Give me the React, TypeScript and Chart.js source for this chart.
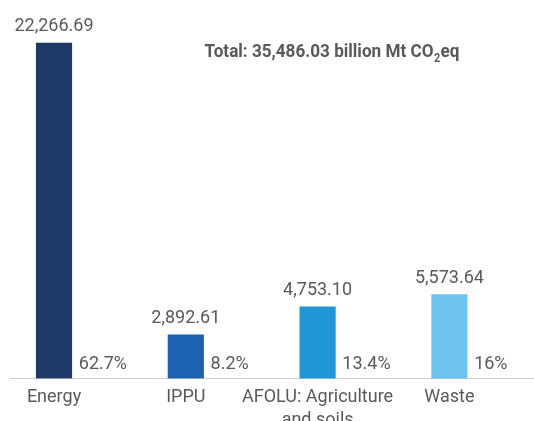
import React, { useEffect, useRef } from 'react';
import { Chart, registerables } from 'chart.js';

Chart.register(...registerables);

const categories: (string | string[])[] = ['Energy', 'IPPU', ['AFOLU: Agriculture', 'and soils'], 'Waste'];
const emissions = [22266.69, 2892.61, 4753.1, 5573.64];
const shares = [62.7, 8.2, 13.4, 16];
const barColors = ['#1e3a66', '#1c62b0', '#2196d6', '#6cc4ee'];
const TOTAL = 35486.03;

const TEXT = '#595959';
const FONT = 'Roboto, "Noto Sans", sans-serif';

const fmt = (v: number) =>
  v.toLocaleString('en-US', { minimumFractionDigits: 2, maximumFractionDigits: 2 });

const labelPlugin = {
  id: 'customLabels',
  afterDatasetsDraw(chart: any) {
    const ctx = chart.ctx as CanvasRenderingContext2D;
    const meta = chart.getDatasetMeta(0);
    const base = chart.scales.y.getPixelForValue(0);
    ctx.save();
    ctx.font = `18px ${FONT}`;
    ctx.fillStyle = TEXT;
    ctx.textBaseline = 'alphabetic';
    meta.data.forEach((bar: any, i: number) => {
      const { x, y, width } = bar.getProps(['x', 'y', 'width'], true);
      ctx.textAlign = 'center';
      ctx.fillText(fmt(emissions[i]), x, y - 12);
      ctx.textAlign = 'left';
      ctx.fillText(`${shares[i]}%`, x + width / 2 + 7, base - 10);
    });

    // Title with subscript
    const main = `Total: ${fmt(TOTAL)} billion Mt CO`;
    const sub = '2';
    const tail = 'eq';
    const bigFont = `bold 19px ${FONT}`;
    const smallFont = `bold 12px ${FONT}`;
    ctx.font = bigFont;
    const w1 = ctx.measureText(main).width;
    const w3 = ctx.measureText(tail).width;
    ctx.font = smallFont;
    const w2 = ctx.measureText(sub).width + 1;
    const total = w1 + w2 + w3;
    const target = 255;
    const sx = target / total;
    const cx = 332;
    const baseY = 57;
    ctx.translate(cx - target / 2, baseY);
    ctx.scale(sx, 1);
    ctx.textAlign = 'left';
    ctx.font = bigFont;
    ctx.fillText(main, 0, 0);
    ctx.font = smallFont;
    ctx.fillText(sub, w1 + 0.5, 5);
    ctx.font = bigFont;
    ctx.fillText(tail, w1 + w2, 0);
    ctx.restore();
  },
};

export default function App() {
  const ref = useRef<HTMLCanvasElement>(null);

  useEffect(() => {
    if (!ref.current) return;
    const chart = new Chart(ref.current, {
      type: 'bar',
      data: {
        datasets: [
          {
            data: emissions.map((y, i) => ({ x: i, y })),
            backgroundColor: barColors,
            barThickness: 35.5,
            borderWidth: 0,
          },
        ],
      },
      options: {
        animation: false,
        responsive: true,
        maintainAspectRatio: false,
        layout: { padding: { top: 17, left: 10, right: 0, bottom: 0 } },
        plugins: {
          legend: { display: false },
          tooltip: { enabled: false },
          title: { display: false },
        },
        scales: {
          x: {
            type: 'linear',
            offset: false,
            min: -0.334,
            max: 3.642,
            afterFit: (s: any) => {
              s.height = 42.5;
            },
            grid: { display: false, drawTicks: false, offset: false },
            border: { display: true, color: '#cccccc', width: 1 },
            ticks: {
              stepSize: 1,
              includeBounds: false,
              autoSkip: false,
              maxRotation: 0,
              minRotation: 0,
              padding: 7,
              color: TEXT,
              font: { family: FONT, size: 18, lineHeight: 1.3 },
              callback: (v: any) => (Number.isInteger(v) ? (categories[v] as any) : ''),
            },
          },
          y: {
            display: false,
            min: 0,
            max: 24000,
          },
        },
      } as any,
      plugins: [labelPlugin],
    });
    return () => chart.destroy();
  }, []);

  return (
    <div style={{ position: 'fixed', left: 0, top: 0, width: 534, height: 421 }}>
      <canvas ref={ref} />
    </div>
  );
}
